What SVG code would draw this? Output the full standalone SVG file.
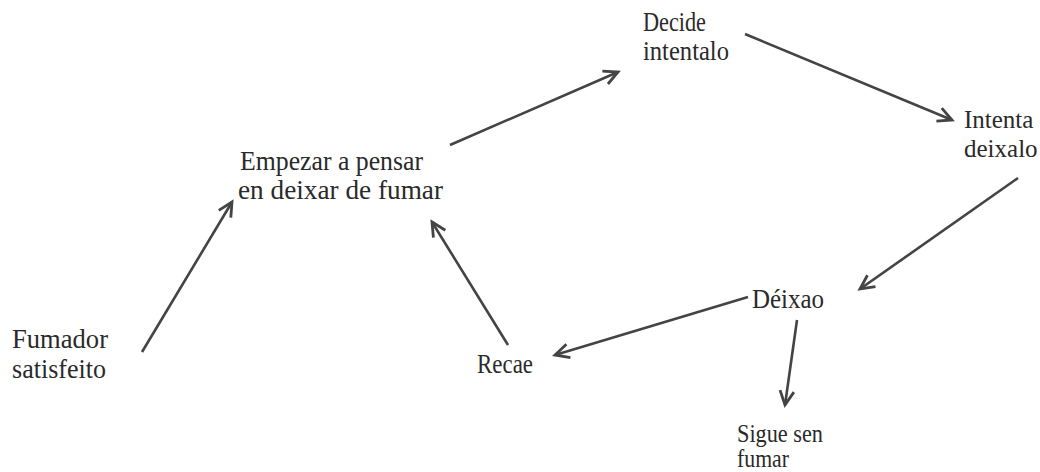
<svg xmlns="http://www.w3.org/2000/svg" width="1040" height="472" viewBox="0 0 1040 472">
<defs>
<style>
text{font-family:"Liberation Serif","Times New Roman",serif;font-size:27px;fill:#2a2a2a}
.s{font-size:25px}
.c line{stroke:#444;stroke-width:2.6;fill:none;marker-end:url(#ah)}
</style>
<marker id="ah" markerUnits="userSpaceOnUse" markerWidth="20" markerHeight="20" viewBox="0 0 20 20" refX="17" refY="10" orient="auto">
<path d="M3,3 L17,10 L3,17" fill="none" stroke="#444" stroke-width="2.8" stroke-linejoin="miter"/>
</marker>
</defs>
<rect width="1040" height="472" fill="#fff"/>
<g id="fumador"><text x="12" y="348" textLength="96" lengthAdjust="spacingAndGlyphs">Fumador</text><text x="12" y="378" textLength="94" lengthAdjust="spacingAndGlyphs">satisfeito</text></g>
<g id="empezar"><text x="240" y="170" textLength="183" lengthAdjust="spacingAndGlyphs">Empezar a pensar</text><text x="238" y="199" textLength="205" lengthAdjust="spacingAndGlyphs">en deixar de fumar</text></g>
<g id="decide"><text x="643" y="31" textLength="63" lengthAdjust="spacingAndGlyphs">Decide</text><text x="643" y="60" textLength="86" lengthAdjust="spacingAndGlyphs">intentalo</text></g>
<g id="intenta"><text class="s" x="964" y="128">Intenta</text><text class="s" x="964" y="157">deixalo</text></g>
<g id="deixao"><text x="752" y="308" textLength="72" lengthAdjust="spacingAndGlyphs">Déixao</text></g>
<g id="recae"><text x="477" y="373" textLength="56" lengthAdjust="spacingAndGlyphs">Recae</text></g>
<g id="sigue"><text class="s" x="737" y="442" textLength="86" lengthAdjust="spacingAndGlyphs">Sigue sen</text><text class="s" x="737" y="467" textLength="52" lengthAdjust="spacingAndGlyphs">fumar</text></g>
<g id="connectors" class="c">
<line x1="142" y1="352" x2="232" y2="202"/>
<line x1="450" y1="145" x2="618" y2="72"/>
<line x1="745" y1="34" x2="952" y2="120"/>
<line x1="1018" y1="178" x2="860" y2="289"/>
<line x1="748" y1="297" x2="555" y2="355"/>
<line x1="508" y1="345" x2="432" y2="222"/>
<line x1="797" y1="320" x2="785" y2="405"/>
</g>
</svg>
